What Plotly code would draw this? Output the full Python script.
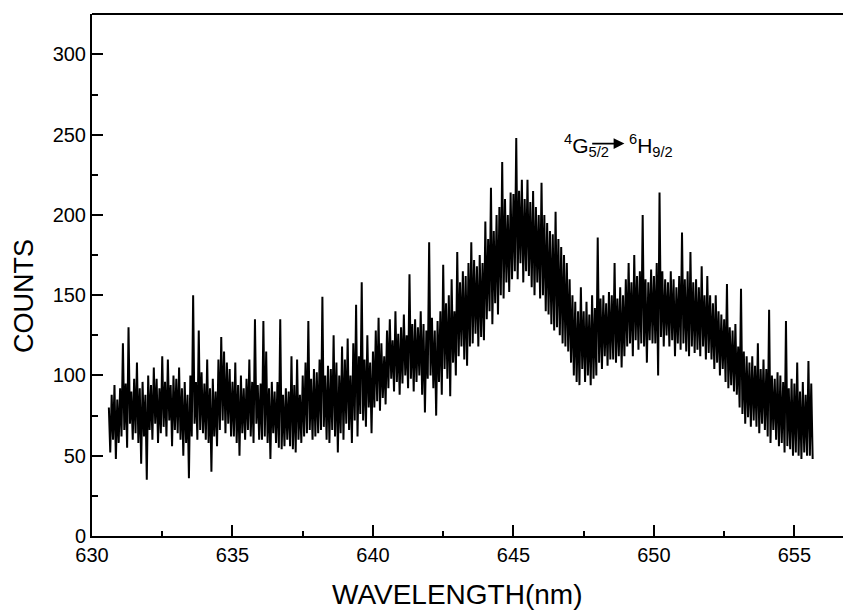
import numpy as np
import plotly.graph_objects as go

# Spectrum: start wavelength (nm), sampling step (nm), counts
wl_start = 630.6
wl_step = 0.05
counts = [
    80, 52, 88, 60, 94, 48, 85, 58,
    92, 62, 120, 66, 95, 55, 130, 70, 90, 60,
    98, 64, 108, 58, 92, 45, 96, 62, 88, 35,
    100, 66, 94, 60, 105, 70, 98, 58, 92, 64,
    112, 68, 96, 62, 110, 72, 94, 56, 100, 66,
    98, 64, 105, 60, 92, 50, 96, 58, 88, 36,
    100, 62, 150, 70, 96, 60, 128, 66, 102, 64,
    95, 60, 110, 58, 92, 40, 98, 62, 90, 56,
    110, 66, 124, 72, 115, 64, 108, 70, 104, 62,
    96, 62, 108, 58, 94, 50, 100, 64, 92, 60,
    98, 66, 110, 62, 96, 58, 135, 70, 94, 60,
    95, 60, 134, 62, 115, 58, 92, 48, 96, 64,
    90, 58, 96, 55, 135, 54, 88, 56, 92, 60,
    90, 56, 112, 54, 94, 52, 110, 60, 88, 58,
    100, 62, 108, 64, 134, 66, 98, 60, 104, 62,
    102, 64, 110, 66, 149, 68, 100, 60, 106, 58,
    104, 66, 125, 62, 108, 52, 100, 64, 118, 60,
    110, 70, 123, 66, 100, 58, 120, 72, 144, 62,
    112, 76, 158, 72, 110, 68, 125, 80, 108, 64,
    115, 80, 128, 84, 136, 78, 120, 86, 112, 82,
    128, 92, 135, 98, 122, 90, 140, 96, 126, 88,
    130, 95, 138, 100, 125, 92, 163, 98, 132, 90,
    135, 96, 130, 100, 140, 88, 132, 77, 128, 98,
    183, 100, 136, 92, 128, 75, 134, 96, 140, 88,
    169, 104, 145, 98, 150, 87, 160, 108, 140, 100,
    177, 112, 158, 118, 165, 110, 162, 106, 170, 118,
    183, 120, 172, 126, 168, 118, 175, 124, 170, 122,
    196, 135, 185, 140, 217, 132, 190, 145, 200, 138,
    205, 150, 233, 148, 210, 158, 200, 152, 214, 160,
    213, 165, 248, 160, 215, 170, 222, 158, 210, 165,
    222, 162, 208, 155, 215, 150, 205, 158, 200, 148,
    220, 150, 200, 140, 195, 138, 190, 132, 188, 128,
    202, 130, 185, 125, 180, 120, 175, 118, 170, 115,
    160, 108, 150, 100, 146, 96, 140, 94, 155, 104,
    140, 96, 146, 100, 138, 94, 150, 98, 142, 100,
    186, 108, 148, 104, 150, 112, 145, 106, 152, 110,
    150, 110, 170, 108, 148, 112, 155, 105, 150, 112,
    160, 118, 170, 120, 158, 112, 175, 122, 162, 116,
    165, 120, 200, 118, 160, 108, 158, 122, 166, 120,
    162, 120, 170, 100, 214, 124, 165, 118, 160, 125,
    158, 118, 165, 122, 160, 112, 155, 120, 162, 116,
    189, 120, 160, 115, 165, 112, 177, 118, 158, 114,
    160, 116, 155, 112, 168, 118, 150, 110, 162, 114,
    150, 110, 145, 104, 150, 108, 140, 100, 138, 104,
    135, 96, 157, 92, 130, 94, 128, 90, 132, 88,
    118, 80, 154, 76, 115, 70, 112, 74, 108, 68,
    112, 72, 106, 68, 120, 64, 104, 70, 110, 66,
    104, 62, 141, 58, 100, 66, 98, 60, 102, 56,
    100, 58, 96, 52, 134, 56, 92, 54, 98, 50,
    95, 52, 108, 50, 90, 48, 96, 52, 88, 50,
    109, 50, 95, 48,
]
wavelengths = wl_start + wl_step * np.arange(len(counts))

x_ticks = [630, 635, 640, 645, 650, 655]
y_ticks = [0, 50, 100, 150, 200, 250, 300]
x_title = "WAVELENGTH(nm)"
y_title = "COUNTS"
upper_state = "<sup>4</sup>G<sub>5/2</sub>"
lower_state = "<sup>6</sup>H<sub>9/2</sub>"

fig = go.Figure()
fig.add_trace(go.Scatter(
    x=wavelengths, y=counts, mode="lines",
    line=dict(color="black", width=2),
    showlegend=False, hoverinfo="skip",
))

font_family = "Liberation Sans, Arial, sans-serif"

W, H = 845, 612
ML, MR, MT, MB = 92, 2, 14, 76

fig.update_layout(
    width=W, height=H,
    margin=dict(l=ML, r=MR, t=MT, b=MB, autoexpand=False),
    paper_bgcolor="white", plot_bgcolor="white",
    font=dict(family=font_family, color="black", size=20),
    xaxis=dict(
        range=[630, 656.73], automargin=False,
        tickmode="array", tickvals=x_ticks, ticktext=[str(v) for v in x_ticks],
        ticks="inside", ticklen=11, tickwidth=2, tickcolor="black",
        minor=dict(ticks="inside", ticklen=5, tickwidth=1.5, tickcolor="black", dtick=2.5),
        showline=True, linecolor="black", linewidth=2,
        showgrid=False, zeroline=False,
        tickfont=dict(size=20, family=font_family),
    ),
    yaxis=dict(
        range=[0, 325.2], automargin=False,
        tickmode="array", tickvals=y_ticks, ticktext=[str(v) for v in y_ticks],
        ticks="inside", ticklen=11, tickwidth=2, tickcolor="black",
        minor=dict(ticks="inside", ticklen=6, tickwidth=1.5, tickcolor="black", dtick=25),
        showline=True, linecolor="black", linewidth=2,
        showgrid=False, zeroline=False,
        tickfont=dict(size=20, family=font_family),
    ),
    shapes=[dict(type="line", xref="paper", yref="paper", x0=0, x1=1, y0=1, y1=1,
                 line=dict(color="black", width=2))],
    annotations=[
        # axis titles
        dict(x=(457 - ML) / (W - ML - MR), y=-(594 - (H - MB)) / (H - MT - MB),
             xref="paper", yref="paper", text=x_title, showarrow=False,
             xanchor="center", yanchor="middle", font=dict(size=28, family=font_family)),
        dict(x=-(ML - 24) / (W - ML - MR), y=(H - MB - 296) / (H - MT - MB),
             xref="paper", yref="paper", text=y_title, showarrow=False, textangle=-90,
             xanchor="center", yanchor="middle", font=dict(size=27, family=font_family)),
        # transition label
        dict(x=646.72, y=243, xref="x", yref="y", text=upper_state, showarrow=False,
             xanchor="left", yanchor="middle", font=dict(size=21, family=font_family)),
        dict(x=648.95, y=244.5, ax=647.75, ay=244.5, xref="x", yref="y", axref="x", ayref="y",
             text="", showarrow=True, arrowhead=2, arrowsize=1.2, arrowwidth=1.8,
             arrowcolor="black", standoff=0, startstandoff=0),
        dict(x=649.05, y=243, xref="x", yref="y", text=lower_state, showarrow=False,
             xanchor="left", yanchor="middle", font=dict(size=21, family=font_family)),
    ],
)

fig.write_html(
    "out.html",
    config={"displayModeBar": False},
    post_script="document.body.style.margin='0';document.body.style.padding='0';"
                "document.body.style.overflow='hidden';",
)
